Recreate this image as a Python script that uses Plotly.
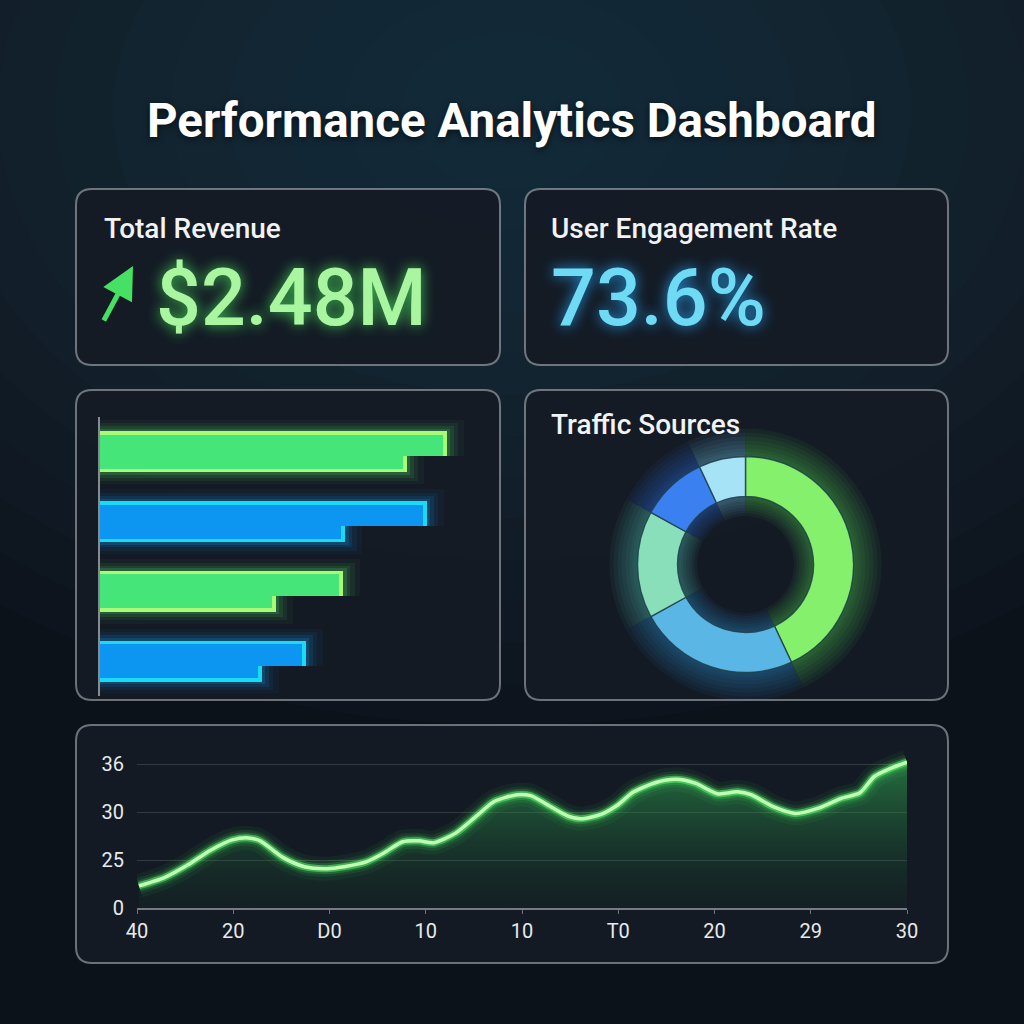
import plotly.graph_objects as go

W = H = 1024


def px(x):
    return x / W


def py(y):
    return 1 - y / H


# ---------------- data ----------------
title_text = "Performance Analytics Dashboard"
revenue_label = "Total Revenue"
revenue_value = "$2.48M"
engagement_label = "User Engagement Rate"
engagement_value = "73.6%"
traffic_title = "Traffic Sources"

bar_positions = [0, 1, 2, 3]
bar_primary = [91.3, 86.0, 64.0, 54.2]
bar_secondary = [80.8, 64.5, 46.3, 42.6]
bar_kind = ["green", "blue", "green", "blue"]

traffic_labels = ["Organic", "Direct", "Social", "Paid", "Email"]
traffic_values = [43, 24, 16, 10, 7]

line_x = [0.02, 0.29, 0.53, 0.76, 0.99, 1.16, 1.28, 1.51, 1.74, 1.97, 2.15,
          2.38, 2.56, 2.76, 2.93, 3.08, 3.31, 3.54, 3.71, 3.95, 4.09, 4.29,
          4.47, 4.61, 4.82, 4.99, 5.16, 5.40, 5.60, 5.80, 6.03, 6.24, 6.38,
          6.61, 6.84, 7.08, 7.31, 7.51, 7.66, 7.83, 8.0]
line_y = [22.3, 23.2, 24.5, 26.0, 27.1, 27.3, 27.0, 25.3, 24.3, 24.1, 24.3,
          24.8, 25.7, 26.9, 27.0, 26.8, 27.8, 29.7, 31.1, 31.8, 31.7, 30.6,
          29.6, 29.3, 29.75, 30.7, 32.1, 33.1, 33.4, 33.0, 31.9, 32.1, 31.8,
          30.55, 29.85, 30.4, 31.4, 32.0, 33.7, 34.55, 35.2]
x_tick_vals = [0, 1, 2, 3, 4, 5, 6, 7, 8]
x_tick_text = ["40", "20", "D0", "10", "10", "T0", "20", "29", "30"]
y_tick_vals = [20, 25, 30, 35]
y_tick_text = ["0", "25", "30", "36"]

# ---------------- styles ----------------
GREEN_EDGE, GREEN_CORE, GREEN_GLOW = "#a8fb74", "#34e07a", "rgba(90,240,110,{a})"
BLUE_EDGE, BLUE_CORE, BLUE_GLOW = "#18dcf6", "#0a88f0", "rgba(20,170,255,{a})"
edge_cols = [GREEN_EDGE if k == "green" else BLUE_EDGE for k in bar_kind]
core_cols = [GREEN_CORE if k == "green" else BLUE_CORE for k in bar_kind]


def glow_cols(a):
    return [(GREEN_GLOW if k == "green" else BLUE_GLOW).format(a=a) for k in bar_kind]


pie_colors = ["#84f06c", "#5ab6e4", "#88dfba", "#3b80f0", "#a6e3f6"]
pie_glow = ["rgba(100,240,90,{a})", "rgba(60,170,240,{a})", "rgba(90,220,200,{a})",
            "rgba(50,130,250,{a})", "rgba(120,210,250,{a})"]

fig = go.Figure()

# ---------- bar panel ----------
HALF = 0.294
UP_W = 0.358
LOW_OFF = 0.064
LOW_W = 0.23
IY = 0.05    # inset (axis units, y)
IX = 1.0     # inset (axis units, x)

for e, g, a in [(0.17, 4.4, 0.045), (0.12, 3.0, 0.065), (0.075, 1.9, 0.1), (0.035, 0.9, 0.16)]:
    fig.add_trace(go.Bar(
        orientation="h", y=bar_positions, x=[v + g for v in bar_primary],
        offset=-HALF - e, width=UP_W + e,
        marker=dict(color=glow_cols(a), line=dict(width=0)),
        xaxis="x2", yaxis="y2", hoverinfo="skip", showlegend=False))
    fig.add_trace(go.Bar(
        orientation="h", y=bar_positions, x=[v + g for v in bar_secondary],
        offset=LOW_OFF, width=LOW_W + e,
        marker=dict(color=glow_cols(a), line=dict(width=0)),
        xaxis="x2", yaxis="y2", hoverinfo="skip", showlegend=False))

fig.add_trace(go.Bar(orientation="h", y=bar_positions, x=bar_primary,
                     offset=-HALF, width=UP_W,
                     marker=dict(color=edge_cols, line=dict(width=0)),
                     xaxis="x2", yaxis="y2", showlegend=False))
fig.add_trace(go.Bar(orientation="h", y=bar_positions, x=bar_secondary,
                     offset=LOW_OFF - 0.002, width=LOW_W + 0.002,
                     marker=dict(color=edge_cols, line=dict(width=0)),
                     xaxis="x2", yaxis="y2", showlegend=False))
# inner core (more saturated centre)
fig.add_trace(go.Bar(orientation="h", y=bar_positions, x=[v - IX for v in bar_primary],
                     offset=-HALF + IY, width=UP_W - IY + 0.001,
                     marker=dict(color=core_cols, opacity=0.85, line=dict(width=0)),
                     xaxis="x2", yaxis="y2", showlegend=False, hoverinfo="skip"))
fig.add_trace(go.Bar(orientation="h", y=bar_positions, x=[v - IX for v in bar_secondary],
                     offset=LOW_OFF + 0.001, width=LOW_W - IY - 0.001,
                     marker=dict(color=core_cols, opacity=0.85, line=dict(width=0)),
                     xaxis="x2", yaxis="y2", showlegend=False, hoverinfo="skip"))

# ---------- donut ----------
cx, cy, R, r_in = 745.5, 564.5, 108, 68


def pie_domain(rad):
    return dict(x=[px(cx - rad), px(cx + rad)], y=[py(cy + rad), py(cy - rad)])


for grow in [28, 24, 20, 16, 12, 8, 5, 2]:
    fig.add_trace(go.Pie(
        labels=traffic_labels, values=traffic_values, sort=False,
        direction="clockwise", rotation=0,
        hole=max(r_in - grow * 0.7, 1) / (R + grow), domain=pie_domain(R + grow),
        marker=dict(colors=[c.format(a=0.055) for c in pie_glow], line=dict(width=0)),
        textinfo="none", hoverinfo="skip", showlegend=False))

fig.add_trace(go.Pie(
    labels=traffic_labels, values=traffic_values, sort=False,
    direction="clockwise", rotation=0, hole=r_in / R, domain=pie_domain(R),
    marker=dict(colors=pie_colors, line=dict(color="rgba(30,62,72,0.85)", width=1.4)),
    textinfo="none", showlegend=False))

# ---------- line chart ----------
SM = 0.7
fig.add_trace(go.Scatter(
    x=line_x, y=line_y, mode="lines",
    line=dict(color="rgba(0,0,0,0)", width=0, shape="spline", smoothing=SM),
    fill="tozeroy",
    fillgradient=dict(type="vertical", start=20, stop=36,
                      colorscale=[[0, "rgba(25,70,45,0.12)"], [1, "rgba(50,175,85,0.62)"]]),
    hoverinfo="skip", showlegend=False))
for wdt, col in [(24, "rgba(70,255,100,0.05)"), (16, "rgba(70,255,100,0.09)"),
                 (11, "rgba(80,255,100,0.18)"), (7, "rgba(100,255,110,0.5)")]:
    fig.add_trace(go.Scatter(x=line_x, y=line_y, mode="lines",
                             line=dict(color=col, width=wdt, shape="spline", smoothing=SM),
                             hoverinfo="skip", showlegend=False))
fig.add_trace(go.Scatter(x=line_x, y=line_y, mode="lines",
                         line=dict(color="#c0ffb6", width=3.5, shape="spline", smoothing=SM),
                         showlegend=False))

# ---------- cards ----------


def rrect(x0, y0, x1, y1, r):
    X0, X1 = px(x0), px(x1)
    Y0, Y1 = py(y0), py(y1)
    rx, ry = r / W, r / H
    return (f"M {X0+rx},{Y0} L {X1-rx},{Y0} Q {X1},{Y0} {X1},{Y0-ry} "
            f"L {X1},{Y1+ry} Q {X1},{Y1} {X1-rx},{Y1} L {X0+rx},{Y1} "
            f"Q {X0},{Y1} {X0},{Y1+ry} L {X0},{Y0-ry} Q {X0},{Y0} {X0+rx},{Y0} Z")


shapes = []
# background radial glow
for i in range(14):
    rad = 820 - i * 55
    shapes.append(dict(type="circle", xref="paper", yref="paper", layer="below",
                       x0=px(512 - rad * 1.05), x1=px(512 + rad * 1.05),
                       y0=py(110 + rad * 0.75), y1=py(110 - rad * 0.75),
                       fillcolor="rgba(40,62,86,0.06)", line=dict(width=0)))
cards = [(76, 189, 500, 365), (525, 189, 948, 365), (76, 390, 500, 700),
         (525, 390, 948, 700), (76, 725, 948, 963)]
for c in cards:
    shapes.append(dict(type="path", xref="paper", yref="paper", layer="below",
                       path=rrect(*c, 16), fillcolor="rgba(20,27,37,0.93)",
                       line=dict(color="rgba(185,190,196,0.55)", width=2)))

annotations = [
    dict(text=f"<b>{title_text}</b>", x=0.5, y=py(121), xref="paper", yref="paper",
         showarrow=False, xanchor="center", yanchor="middle",
         font=dict(family="Roboto", size=47.5, color="#ffffff",
                   shadow="0px 2px 6px rgba(0,0,0,0.6)")),
    dict(text=revenue_label, x=px(102), y=py(228), xref="paper", yref="paper",
         showarrow=False, xanchor="left", yanchor="middle",
         font=dict(family="Roboto", size=28, color="#f1f3f5", weight=500)),
    dict(text=revenue_value, x=px(154), y=py(298), xref="paper", yref="paper",
         showarrow=False, xanchor="left", yanchor="middle",
         font=dict(family="Roboto", size=79, color="#aaf6a0", weight=500,
                   shadow="0px 0px 14px rgba(80,255,100,0.75)")),
    dict(text=engagement_label, x=px(549), y=py(228), xref="paper", yref="paper",
         showarrow=False, xanchor="left", yanchor="middle",
         font=dict(family="Roboto", size=28, color="#f1f3f5", weight=500)),
    dict(text=engagement_value, x=px(549), y=py(298), xref="paper", yref="paper",
         showarrow=False, xanchor="left", yanchor="middle",
         font=dict(family="Roboto", size=79, color="#6edaf4", weight=500,
                   shadow="0px 0px 14px rgba(40,170,255,0.85)")),
    dict(text=traffic_title, x=px(549), y=py(424), xref="paper", yref="paper",
         showarrow=False, xanchor="left", yanchor="middle",
         font=dict(family="Roboto", size=28, color="#f1f3f5", weight=500)),
    # trend arrow icon
    dict(text="", x=px(133), y=py(266), xref="paper", yref="paper",
         ax=-30, ay=56, showarrow=True, arrowhead=2, arrowsize=1.3,
         arrowwidth=5, arrowcolor="#46e062"),
]

fig.update_layout(
    width=W, height=H, margin=dict(l=0, r=0, t=0, b=0, pad=0, autoexpand=False),
    paper_bgcolor="#0c121a", plot_bgcolor="rgba(0,0,0,0)",
    barmode="overlay", bargap=0,
    shapes=shapes, annotations=annotations,
    xaxis=dict(domain=[px(137), px(907)], range=[0, 8], tickvals=x_tick_vals,
               ticktext=x_tick_text, showgrid=False, zeroline=False, automargin=False,
               showline=True, linecolor="rgba(200,205,210,0.55)", linewidth=1.5,
               ticks="outside", ticklen=4, tickcolor="rgba(200,205,210,0.5)",
               tickfont=dict(family="Roboto", size=20, color="#e8eaec")),
    yaxis=dict(domain=[py(908), py(750)], range=[20, 36.46], tickvals=y_tick_vals,
               ticktext=y_tick_text, showgrid=True, gridcolor="rgba(255,255,255,0.14)",
               gridwidth=1, zeroline=False, showline=False, ticks="", automargin=False,
               ticklabelstandoff=12,
               tickfont=dict(family="Roboto", size=20, color="#e8eaec")),
    xaxis2=dict(domain=[px(100), px(480)], range=[0, 100], visible=False,
                anchor="y2", automargin=False),
    yaxis2=dict(domain=[py(696), py(417)], range=[3.5, -0.5], anchor="x2",
                showticklabels=False, showgrid=False, zeroline=False, automargin=False,
                showline=True, linecolor="#858b92", linewidth=1.5, ticks=""),
)

fig.write_html("out.html", config={"displayModeBar": False},
               post_script="document.body.style.margin='0';document.body.style.background='#0c121a';")
